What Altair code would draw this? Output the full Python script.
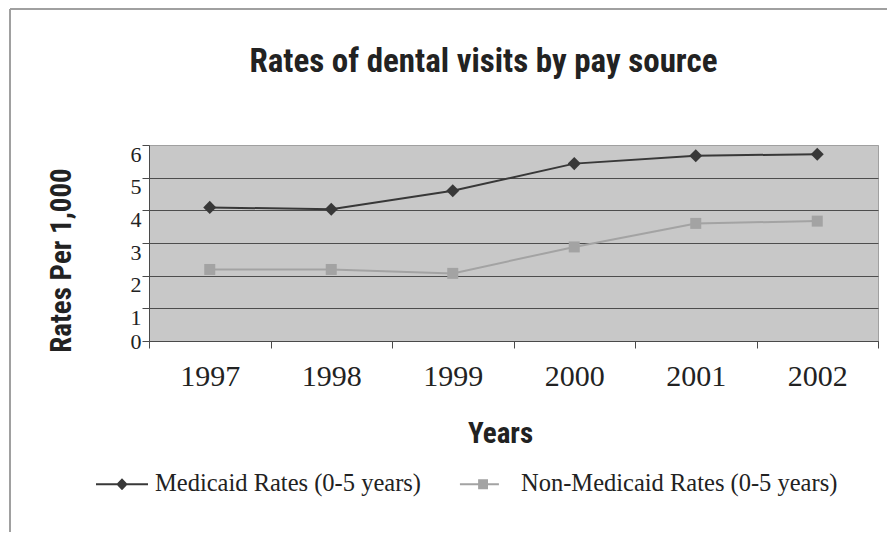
import altair as alt
import pandas as pd

years = ["1997", "1998", "1999", "2000", "2001", "2002"]
medicaid = [4.09, 4.03, 4.60, 5.43, 5.67, 5.72]
non_medicaid = [2.19, 2.19, 2.07, 2.88, 3.60, 3.67]
series_names = ["Medicaid Rates (0-5 years)", "Non-Medicaid Rates (0-5 years)"]
y_ticks = [0, 1, 2, 3, 4, 5, 6]

rows = []
for y, v in zip(years, medicaid):
    rows.append({"year": y, "rate": v, "series": series_names[0]})
for y, v in zip(years, non_medicaid):
    rows.append({"year": y, "rate": v, "series": series_names[1]})
df = pd.DataFrame(rows)

COLORS = ["#383838", "#a3a3a3"]
SANS = "Liberation Sans Narrow, Roboto Condensed, DejaVu Sans Condensed, Liberation Sans, sans-serif"
SERIF = "Liberation Serif, DejaVu Serif, serif"

x_enc = alt.X(
    "year:O",
    scale=alt.Scale(type="band", paddingInner=0, paddingOuter=0, domain=years),
    axis=alt.Axis(
        title="Years",
        labelAngle=0,
        tickBand="extent",
        tickSize=7,
        tickColor="#4a4a4a",
        domainColor="#4a4a4a",
        labelFont=SERIF,
        labelFontSize=30,
        labelColor="#222222",
        labelPadding=13,
        titleFont=SANS,
        titleFontSize=29,
        titleFontWeight="bold",
        titleColor="#222222",
        titleX=351,
        titleY=101,
        titleAlign="center",
        titleBaseline="alphabetic",
        grid=False,
    ),
)
y_enc = alt.Y(
    "rate:Q",
    scale=alt.Scale(domain=[0, 6], nice=False),
    axis=alt.Axis(
        title="Rates Per 1,000",
        values=y_ticks,
        tickSize=7,
        tickColor="#4a4a4a",
        domainColor="#4a4a4a",
        labelFont=SERIF,
        labelFontSize=22,
        labelColor="#222222",
        labelPadding=1,
        labelOffset={"condition": {"test": "datum.value == 0", "value": 0}, "value": 9},
        gridColor={"condition": {"test": "datum.value == 6", "value": "#a0a0a0"}, "value": "#4d4d4d"},
        gridWidth=1,
        grid=True,
        titleFont=SANS,
        titleFontSize=29,
        titleFontWeight="bold",
        titleColor="#222222",
        titleAngle=270,
        titleX=-79,
        titleY=115,
        titleAlign="center",
        titleBaseline="alphabetic",
    ),
)

color_scale = alt.Scale(domain=series_names, range=COLORS)

lines = alt.Chart(df).mark_line(strokeWidth=2).encode(
    x=x_enc,
    y=y_enc,
    color=alt.Color("series:N", scale=color_scale, legend=None),
)

points = alt.Chart(df).mark_point(filled=True, opacity=1, strokeWidth=0).encode(
    x=x_enc,
    y=y_enc,
    color=alt.Color("series:N", scale=color_scale, legend=None),
    shape=alt.Shape("series:N", scale=alt.Scale(domain=series_names, range=["diamond", "square"]), legend=None),
    size=alt.Size("series:N", scale=alt.Scale(domain=series_names, range=[170, 121]), legend=None),
)

med_path = "M-1,-0.04H1V0.04H-1Z M0,-0.23L0.22,0L0,0.23L-0.22,0Z"
non_path = "M-1.08,-0.04H0.42V0.04H-1.08Z M-0.38,-0.19H0V0.19H-0.38Z"

leg = alt.Legend(orient="none", legendX=-53, legendY=313, direction="horizontal", title=None)

legend_layer = alt.Chart(df).transform_filter("false").mark_point(filled=True, opacity=1).encode(
    x=x_enc,
    y=y_enc,
    color=alt.Color("series:N", scale=color_scale, legend=leg, title=None),
    shape=alt.Shape("series:N", scale=alt.Scale(domain=series_names, range=[med_path, non_path]), legend=leg, title=None),
)

frame_df = pd.DataFrame({"k": [0]})
frame_left = alt.Chart(frame_df).mark_rule(color="#a0a0a0", strokeWidth=2).encode(
    x=alt.value(-139), y=alt.value(-136), y2=alt.value(400)
)
frame_top = alt.Chart(frame_df).mark_rule(color="#a0a0a0", strokeWidth=2).encode(
    x=alt.value(-139), x2=alt.value(760), y=alt.value(-136)
)

chart = (
    alt.layer(lines, points, legend_layer, frame_left, frame_top)
    .resolve_scale(color="independent", shape="independent")
    .properties(
        width=729,
        height=196,
        background="white",
        autosize=alt.AutoSizeParams(type="none"),
        padding={"left": 141, "top": 137, "right": 9, "bottom": 191},
        title=alt.TitleParams(
            text="Rates of dental visits by pay source",
            font=SANS,
            fontSize=33,
            fontWeight="bold",
            color="#222222",
            anchor="middle",
            frame="group",
            dx=-30,
            dy=97,
            offset=0,
            baseline="alphabetic",
        ),
    )
    .configure_view(fill="#c8c8c8", stroke="#a0a0a0", strokeWidth=1)
    .configure_legend(
        labelFont=SERIF,
        labelFontSize=24.5,
        labelColor="#222222",
        labelLimit=500,
        symbolSize=2704,
        symbolStrokeWidth=0,
        labelOffset=7,
        columnPadding=38,
        padding=0,
    )
)

chart.save("out.html", embed_options={"renderer": "svg", "actions": False})
